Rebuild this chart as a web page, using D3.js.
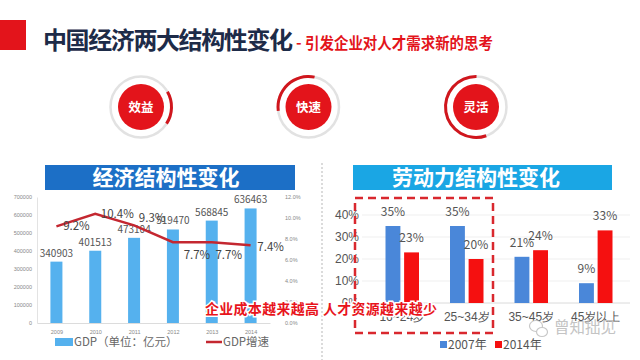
<!DOCTYPE html>
<html>
<head>
<meta charset="utf-8">
<script src="https://cdn.jsdelivr.net/npm/d3@7"></script>
<style>
  body { margin: 0; background: #fff; }
  svg { display: block; font-family: "Noto Sans CJK SC", "Noto Sans", sans-serif; }
</style>
</head>
<body>
<script>
// data
const years = ["2009", "2010", "2011", "2012", "2013", "2014"];
const gdp = [340903, 401513, 473104, 519470, 568845, 636463];
const growth = [9.2, 10.4, 9.3, 7.7, 7.7, 7.4];
const gdpTicks = [0, 100000, 200000, 300000, 400000, 500000, 600000, 700000];
const growthTicks = [0, 2, 4, 6, 8, 10, 12];

const ageGroups = ["16~24岁", "25~34岁", "35~45岁", "45岁以上"];
const share2007 = [35, 35, 21, 9];
const share2014 = [23, 20, 24, 33];
const seriesNames = ["2007年", "2014年"];
const shareTicks = [0, 10, 20, 30, 40];

const keywords = ["效益", "快速", "灵活"];

// layout bits
const ringArcs = [[1.05, 2.15], [-1.7, 0.2], [2.8, 6.3]];
const growthNudge = [[20, 0], [22, 0], [18, -7], [24, 13], [17, 13], [20, 2]];

const W = 640, H = 360;
const svg = d3.select("body").append("svg")
  .attr("width", W)
  .attr("height", H);

// ---- title ----
svg.append("rect").attr("x", 0).attr("y", 20).attr("width", 26).attr("height", 30).attr("fill", "#e3141b");
svg.append("text")
  .attr("x", 43).attr("y", 49)
  .attr("font-size", 24).attr("font-weight", "bold")
  .attr("fill", "#1d2b48")
  .attr("textLength", 250)
  .text("中国经济两大结构性变化");
svg.append("text")
  .attr("x", 296).attr("y", 48)
  .attr("font-size", 15).attr("font-weight", "bold")
  .attr("fill", "#e3141b")
  .text("-");
svg.append("text")
  .attr("x", 305).attr("y", 49)
  .attr("font-size", 15.5).attr("font-weight", "bold")
  .attr("fill", "#e3141b")
  .attr("textLength", 188)
  .attr("lengthAdjust", "spacingAndGlyphs")
  .text("引发企业对人才需求新的思考");

// ---- keyword circles ----
const kx = d3.scalePoint().domain(keywords).range([141, 476]);
const arc = d3.arc().innerRadius(29).outerRadius(32);
const kw = svg.selectAll(".kw")
  .data(keywords)
  .enter()
  .append("g")
  .attr("class", "kw")
  .attr("transform", d => `translate(${kx(d)},107)`);
kw.append("circle").attr("r", 30.5).attr("fill", "none").attr("stroke", "#e2e2e2").attr("stroke-width", 2.5);
kw.append("path")
  .attr("d", (d, i) => arc({ startAngle: ringArcs[i][0], endAngle: ringArcs[i][1] }))
  .attr("fill", "#d0161d");
kw.append("circle").attr("r", 23).attr("fill", "#e3141b");
kw.append("text")
  .attr("text-anchor", "middle").attr("dy", 4.5)
  .attr("font-size", 12.5).attr("font-weight", "bold")
  .attr("fill", "#fff")
  .text(d => d);

// ---- separator ----
svg.append("line")
  .attr("x1", 322).attr("x2", 322).attr("y1", 163).attr("y2", 360)
  .attr("stroke", "#cfcfcf").attr("stroke-width", 1.5).attr("stroke-dasharray", "2,2");

// ---- banners ----
svg.append("rect").attr("x", 45).attr("y", 165).attr("width", 250).attr("height", 25).attr("fill", "#1c6fc6");
svg.append("text").attr("x", 166).attr("y", 185).attr("text-anchor", "middle")
  .attr("font-size", 21).attr("font-weight", "bold").attr("fill", "#fff").text("经济结构性变化");
svg.append("rect").attr("x", 353).attr("y", 165).attr("width", 259).attr("height", 25).attr("fill", "#1aa6e4");
svg.append("text").attr("x", 476).attr("y", 185).attr("text-anchor", "middle")
  .attr("font-size", 21).attr("font-weight", "bold").attr("fill", "#fff").text("劳动力结构性变化");

// ---- left chart: GDP ----
const x = d3.scalePoint().domain(years).range([37, 270]).padding(0.5);
const y = d3.scaleLinear().domain([0, 700000]).range([323, 197]);
const y2 = d3.scaleLinear().domain([0, 12]).range([323, 197]);

const left = svg.append("g");

left.append("g")
  .attr("transform", "translate(37,0)")
  .call(d3.axisLeft(y).tickValues(gdpTicks).tickSize(0).tickPadding(5).tickFormat(d3.format("d")))
  .call(g => g.select(".domain").attr("stroke", "#e3e3e3"))
  .call(g => g.selectAll("text").attr("font-size", 5.5).attr("fill", "#888").attr("font-family", "Liberation Sans, sans-serif"));

left.append("g")
  .attr("transform", "translate(283,0)")
  .call(d3.axisRight(y2).tickValues(growthTicks).tickSize(0).tickPadding(2).tickFormat(d => d.toFixed(1) + "%"))
  .call(g => g.select(".domain").remove())
  .call(g => g.selectAll("text").attr("font-size", 5.5).attr("fill", "#888").attr("font-family", "Liberation Sans, sans-serif"));

left.append("g")
  .attr("transform", "translate(0,323)")
  .call(d3.axisBottom(x).tickSize(0).tickPadding(7))
  .call(g => g.select(".domain").attr("stroke", "#dcdcdc"))
  .call(g => g.selectAll("text").attr("font-size", 5.5).attr("fill", "#888").attr("font-family", "Liberation Sans, sans-serif"));

left.selectAll(".bar")
  .data(gdp)
  .enter()
  .append("rect")
  .attr("class", "bar")
  .attr("x", (d, i) => x(years[i]) - 6)
  .attr("y", d => y(d))
  .attr("width", 12)
  .attr("height", d => y(0) - y(d))
  .attr("fill", "#55b1ee");

left.selectAll(".barlabel")
  .data(gdp)
  .enter()
  .append("text")
  .attr("class", "barlabel")
  .attr("x", (d, i) => x(years[i]))
  .attr("y", d => y(d) - 5)
  .attr("text-anchor", "middle")
  .attr("font-size", 10)
  .attr("fill", "#555")
  .text(d => d);

const line = d3.line()
  .x((d, i) => x(years[i]))
  .y(d => y2(d));
left.append("path")
  .datum(growth)
  .attr("d", line)
  .attr("fill", "none")
  .attr("stroke", "#c42730")
  .attr("stroke-width", 2.5);

left.selectAll(".glabel")
  .data(growth)
  .enter()
  .append("text")
  .attr("class", "glabel")
  .attr("x", (d, i) => x(years[i]) + growthNudge[i][0])
  .attr("y", (d, i) => y2(d) + growthNudge[i][1] + 4)
  .attr("text-anchor", "middle")
  .attr("font-size", 11.5)
  .attr("fill", "#444")
  .text(d => d.toFixed(1) + "%");

// legend
left.append("rect").attr("x", 55).attr("y", 338).attr("width", 18).attr("height", 8).attr("fill", "#55b1ee");
left.append("text").attr("x", 74).attr("y", 346).attr("font-size", 11.5).attr("fill", "#666").text("GDP（单位：亿元）");
left.append("line").attr("x1", 206).attr("x2", 222).attr("y1", 342).attr("y2", 342)
  .attr("stroke", "#c42730").attr("stroke-width", 2.5);
left.append("text").attr("x", 223).attr("y", 346).attr("font-size", 11.5).attr("fill", "#666").text("GDP增速");

// ---- right chart: labour ----
const x0 = d3.scaleBand().domain(ageGroups).range([370, 628]);
const x1 = d3.scaleBand().domain(seriesNames).range([15.5, 49]).paddingInner(0.2);
const yr = d3.scaleLinear().domain([0, 40]).range([303, 215]);
const colors = d3.scaleOrdinal().domain(seriesNames).range(["#4a87d9", "#f51010"]);

const right = svg.append("g");

right.append("g")
  .selectAll("line")
  .data(shareTicks)
  .enter()
  .append("line")
  .attr("x1", 362).attr("x2", 630)
  .attr("y1", d => yr(d)).attr("y2", d => yr(d))
  .attr("stroke", d => d === 0 ? "#dadada" : "#efefef");

right.append("g")
  .attr("transform", "translate(361,0)")
  .call(d3.axisLeft(yr).tickValues(shareTicks).tickSize(0).tickPadding(2).tickFormat(d => d + "%"))
  .call(g => g.select(".domain").remove())
  .call(g => g.selectAll("text").attr("font-size", 12).attr("fill", "#555"));

const rows = ageGroups.map((a, i) => [
  { key: seriesNames[0], age: a, v: share2007[i] },
  { key: seriesNames[1], age: a, v: share2014[i] }
]);

const grp = right.selectAll(".grp")
  .data(rows)
  .enter()
  .append("g")
  .attr("class", "grp")
  .attr("transform", (d, i) => `translate(${x0(ageGroups[i])},0)`);

grp.selectAll("rect")
  .data(d => d)
  .enter()
  .append("rect")
  .attr("x", d => x1(d.key))
  .attr("y", d => yr(d.v))
  .attr("width", x1.bandwidth())
  .attr("height", d => yr(0) - yr(d.v))
  .attr("fill", d => colors(d.key));

grp.selectAll("text")
  .data(d => d)
  .enter()
  .append("text")
  .attr("x", d => x1(d.key) + x1.bandwidth() / 2)
  .attr("y", d => yr(d.v) - 10)
  .attr("text-anchor", "middle")
  .attr("font-size", 12)
  .attr("fill", "#555")
  .text(d => d.v + "%");

right.append("g")
  .attr("transform", "translate(0,303)")
  .call(d3.axisBottom(x0).tickSize(0).tickPadding(9))
  .call(g => g.select(".domain").remove())
  .call(g => g.selectAll("text").attr("font-size", 12).attr("fill", "#555"));

// legend
const lg = right.selectAll(".lg")
  .data(seriesNames)
  .enter()
  .append("g")
  .attr("class", "lg")
  .attr("transform", (d, i) => `translate(${440 + i * 55},341)`);
lg.append("rect").attr("width", 7).attr("height", 7).attr("fill", d => colors(d));
lg.append("text").attr("x", 8).attr("y", 8).attr("font-size", 12).attr("fill", "#555").text(d => d);

// dashed highlight box
right.append("rect")
  .attr("x", 355).attr("y", 198).attr("width", 138).attr("height", 135)
  .attr("fill", "none")
  .attr("stroke", "#d9282e").attr("stroke-width", 2.5)
  .attr("stroke-dasharray", "8,5");

// watermark
const wm = svg.append("g").attr("fill", "none").attr("stroke", "#c8c8c8").attr("stroke-width", 1.2);
wm.append("ellipse").attr("cx", 536).attr("cy", 326).attr("rx", 6.5).attr("ry", 5.5);
wm.append("ellipse").attr("cx", 542).attr("cy", 332).attr("rx", 5.5).attr("ry", 4.5).attr("fill", "#fff");
svg.append("text").attr("x", 554).attr("y", 333).attr("font-size", 15.5)
  .attr("fill", "#c4c4c4").text("曾知拙见");

// red overlay note
svg.append("text")
  .attr("x", 205).attr("y", 314)
  .attr("font-size", 14).attr("font-weight", "bold")
  .attr("fill", "#e8141c")
  .attr("stroke", "#fff").attr("stroke-width", 3)
  .attr("paint-order", "stroke")
  .attr("textLength", 232)
  .text("企业成本越来越高 人才资源越来越少");
</script>
</body>
</html>
